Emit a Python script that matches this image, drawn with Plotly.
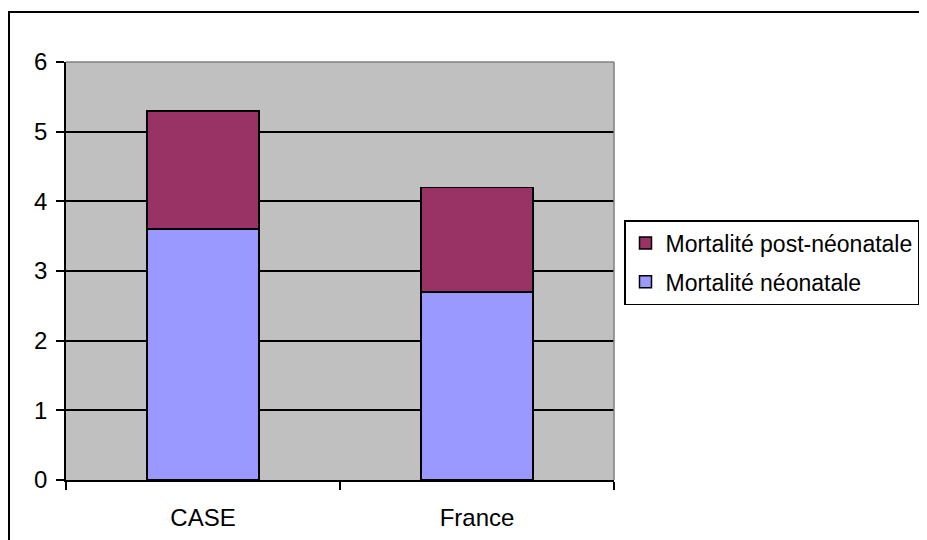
import plotly.graph_objects as go

categories = ["CASE", "France"]
neonatale = [3.6, 2.7]
post_neonatale = [1.7, 1.5]
y_ticks = [0, 1, 2, 3, 4, 5, 6]

FONT = dict(family="Liberation Sans, Arial, sans-serif", size=24, color="black")
LEGEND_FONT = dict(family="Liberation Sans, Arial, sans-serif", size=23, color="black")

fig = go.Figure()
fig.add_trace(go.Bar(
    x=categories, y=neonatale, name="Mortalité néonatale",
    legendgroup="b", legendrank=2,
    marker=dict(color="#9999FF", line=dict(color="black", width=1.5)),
))
fig.add_trace(go.Bar(
    x=categories, y=post_neonatale, name="Mortalité post-néonatale",
    legendgroup="a", legendrank=1,
    marker=dict(color="#993366", line=dict(color="black", width=1.5)),
))

# page offset of the browser body margin
OFF = 8
W, H = 927 - OFF, 540 - OFF
L, T = 66 - OFF, 62 - OFF
R = W - (614 - OFF)
B = H - (480 - OFF)
pw, ph = W - L - R, H - T - B

def px_x(x):
    return (x - OFF - L) / pw

def px_y(y):
    return (H - B - (y - OFF)) / ph

fig.update_layout(
    width=W, height=H,
    margin=dict(l=L, r=R, t=T, b=B, pad=0, autoexpand=False),
    barmode="stack",
    bargap=0.59,
    paper_bgcolor="white",
    plot_bgcolor="#C0C0C0",
    font=FONT,
    showlegend=True,
    legend=dict(
        x=px_x(624), y=px_y(220), xanchor="left", yanchor="top",
        bgcolor="white", bordercolor="black", borderwidth=1.5,
        traceorder="grouped", tracegroupgap=6, font=LEGEND_FONT,
    ),
    xaxis=dict(
        type="category", tickson="boundaries", ticks="outside", ticklen=8,
        tickcolor="black", tickwidth=1.5, showline=True, linecolor="black",
        linewidth=1.5, showgrid=False, ticklabelstandoff=15, automargin=False,
    ),
    yaxis=dict(
        range=[0, 6], tickvals=y_ticks, ticks="outside", ticklen=8,
        tickcolor="black", tickwidth=1.5, showline=True, linecolor="black",
        linewidth=1.5, showgrid=True, gridcolor="black", gridwidth=1.5,
        zeroline=False, ticklabelstandoff=4, automargin=False,
    ),
    shapes=[
        dict(type="line", xref="paper", yref="paper", x0=0, x1=1, y0=1, y1=1,
             line=dict(color="#808080", width=1.5), layer="above"),
        dict(type="line", xref="paper", yref="paper", x0=1, x1=1, y0=0, y1=1,
             line=dict(color="#808080", width=1.5), layer="above"),
        dict(type="rect", xref="paper", yref="paper",
             x0=px_x(9), x1=px_x(980), y0=px_y(580), y1=px_y(12),
             line=dict(color="black", width=2), layer="above"),
    ],
)

fig.write_html("out.html")
